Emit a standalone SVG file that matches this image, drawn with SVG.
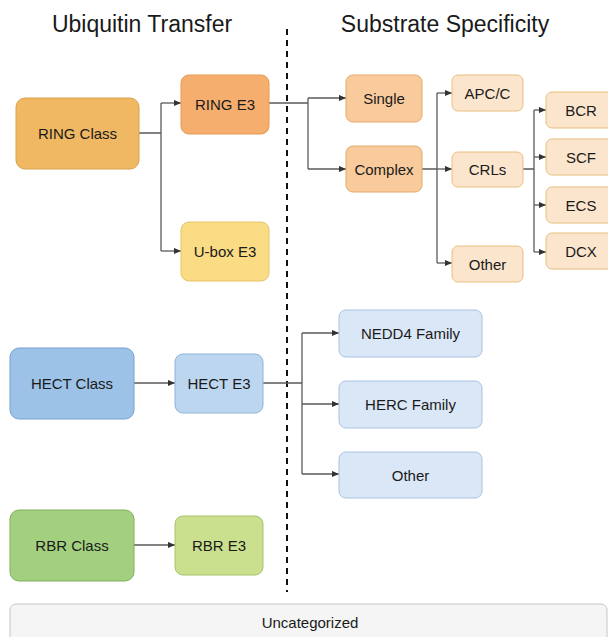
<svg xmlns="http://www.w3.org/2000/svg" width="608" height="637" viewBox="0 0 608 637">
<style>
text{font-family:"Liberation Sans",Arial,sans-serif;fill:#1a1a1a;text-anchor:middle;dominant-baseline:central}
.t{font-size:15px}
.title{font-size:23px;dominant-baseline:auto}
.c{fill:none;stroke:#5a5a5a;stroke-width:1.3}
.ringc{fill:#F0B862;stroke:#D9A14C}
.ringe{fill:#F5AE6E;stroke:#E39A55}
.ubox{fill:#F9DC84;stroke:#E6C46A}
.sub1{fill:#F8CA9C;stroke:#E6A86A}
.sub2{fill:#FCE5CD;stroke:#E8BE7E}
.hectc{fill:#9CC3E7;stroke:#76A3D1}
.hecte{fill:#BDD6F0;stroke:#8FB4DA}
.hsub{fill:#DAE7F6;stroke:#A9C2E2}
.rbrc{fill:#A3D07F;stroke:#7FAF5E}
.rbre{fill:#CBE08F;stroke:#A8C46C}
.unc{fill:#F5F5F5;stroke:#C6C6C6}
</style>
<defs>
<marker id="a" viewBox="0 0 8 8" refX="8" refY="4" markerWidth="7" markerHeight="7" markerUnits="userSpaceOnUse" orient="auto">
<path d="M0,0.5 L8,4 L0,7.5 z" fill="#333"/>
</marker>
</defs>
<text class="title" x="142" y="32">Ubiquitin Transfer</text>
<text class="title" x="445" y="32">Substrate Specificity</text>
<line x1="287" y1="29" x2="287" y2="592" stroke="#111" stroke-width="2" stroke-dasharray="6,5"/>
<g id="connectors">
<path class="c" d="M139,133 H161 M161,103 V251"/>
<path class="c" d="M161,103 H181" marker-end="url(#a)"/>
<path class="c" d="M161,251 H181" marker-end="url(#a)"/>
<path class="c" d="M269,103 H308 M308,98 V169"/>
<path class="c" d="M308,98 H346" marker-end="url(#a)"/>
<path class="c" d="M308,169 H346" marker-end="url(#a)"/>
<path class="c" d="M422,169 H437 M437,93 V263"/>
<path class="c" d="M437,93 H452" marker-end="url(#a)"/>
<path class="c" d="M437,169 H452" marker-end="url(#a)"/>
<path class="c" d="M437,263 H452" marker-end="url(#a)"/>
<path class="c" d="M523,169 H534 M534,110 V252"/>
<path class="c" d="M534,110 H546" marker-end="url(#a)"/>
<path class="c" d="M534,157 H546" marker-end="url(#a)"/>
<path class="c" d="M534,205 H546" marker-end="url(#a)"/>
<path class="c" d="M534,252 H546" marker-end="url(#a)"/>
<path class="c" d="M134,383 H175" marker-end="url(#a)"/>
<path class="c" d="M263,383 H302 M302,333 V474"/>
<path class="c" d="M302,333 H339" marker-end="url(#a)"/>
<path class="c" d="M302,404 H339" marker-end="url(#a)"/>
<path class="c" d="M302,474 H339" marker-end="url(#a)"/>
<path class="c" d="M134,545 H175" marker-end="url(#a)"/>
</g>
<g id="ring_class"><rect class="ringc" x="16" y="98" width="123" height="71" rx="9"/><text class="t" x="77.5" y="133.5">RING Class</text></g>
<g id="ring_e3"><rect class="ringe" x="181" y="75" width="88" height="59" rx="8"/><text class="t" x="225" y="104.5">RING E3</text></g>
<g id="ubox_e3"><rect class="ubox" x="181" y="222" width="88" height="59" rx="8"/><text class="t" x="225" y="251.5">U-box E3</text></g>
<g id="single"><rect class="sub1" x="346" y="75" width="76" height="47" rx="7"/><text class="t" x="384" y="98.5">Single</text></g>
<g id="complex"><rect class="sub1" x="346" y="146" width="76" height="46" rx="7"/><text class="t" x="384" y="169">Complex</text></g>
<g id="apcc"><rect class="sub2" x="452" y="75" width="71" height="36" rx="6"/><text class="t" x="487.5" y="93">APC/C</text></g>
<g id="crls"><rect class="sub2" x="452" y="152" width="71" height="35" rx="6"/><text class="t" x="487.5" y="169.5">CRLs</text></g>
<g id="other_ring"><rect class="sub2" x="452" y="246" width="71" height="36" rx="6"/><text class="t" x="487.5" y="264">Other</text></g>
<g id="bcr"><rect class="sub2" x="546" y="92" width="72" height="36" rx="6"/><text class="t" x="581" y="110">BCR</text></g>
<g id="scf"><rect class="sub2" x="546" y="139" width="72" height="36" rx="6"/><text class="t" x="581" y="157">SCF</text></g>
<g id="ecs"><rect class="sub2" x="546" y="187" width="72" height="36" rx="6"/><text class="t" x="581" y="205">ECS</text></g>
<g id="dcx"><rect class="sub2" x="546" y="233" width="72" height="36" rx="6"/><text class="t" x="581" y="251">DCX</text></g>
<g id="hect_class"><rect class="hectc" x="10" y="348" width="124" height="71" rx="9"/><text class="t" x="72" y="383.5">HECT Class</text></g>
<g id="hect_e3"><rect class="hecte" x="175" y="354" width="88" height="59" rx="8"/><text class="t" x="219" y="383.5">HECT E3</text></g>
<g id="nedd4"><rect class="hsub" x="339" y="310" width="143" height="47" rx="7"/><text class="t" x="410.5" y="333.5">NEDD4 Family</text></g>
<g id="herc"><rect class="hsub" x="339" y="381" width="143" height="47" rx="7"/><text class="t" x="410.5" y="404.5">HERC Family</text></g>
<g id="other_hect"><rect class="hsub" x="339" y="452" width="143" height="46" rx="7"/><text class="t" x="410.5" y="475">Other</text></g>
<g id="rbr_class"><rect class="rbrc" x="10" y="510" width="124" height="71" rx="9"/><text class="t" x="72" y="545.5">RBR Class</text></g>
<g id="rbr_e3"><rect class="rbre" x="175" y="516" width="88" height="59" rx="8"/><text class="t" x="219" y="545.5">RBR E3</text></g>
<g id="uncategorized"><rect class="unc" x="10" y="604" width="597" height="45" rx="6"/><text class="t" x="310" y="622">Uncategorized</text></g>
</svg>
